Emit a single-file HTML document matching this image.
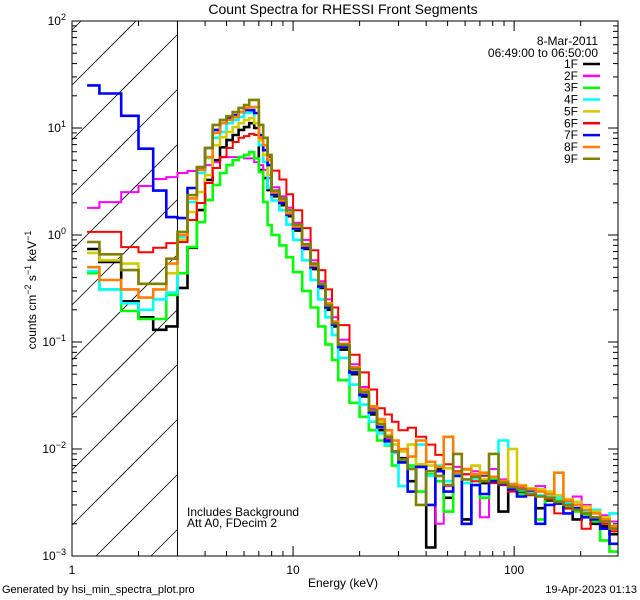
<!DOCTYPE html>
<html><head><meta charset="utf-8"><style>
html,body{margin:0;padding:0;background:#fff;overflow:hidden;width:640px;height:600px;}
svg{display:block;font-family:"Liberation Sans",sans-serif;}
</style></head><body>
<svg id="chart" width="640" height="600" viewBox="0 0 640 600">
<rect x="0" y="0" width="640" height="600" fill="#fff"/>
<text x="343" y="14" font-size="14" text-anchor="middle">Count Spectra for RHESSI Front Segments</text>
<g id="hatch"></g>
<g id="axes"></g>
<g id="series"></g>
<rect x="72" y="21" width="546" height="535" fill="none" stroke="#000" stroke-width="1"/>
<text x="187" y="516" font-size="12">Includes Background</text>
<text x="187" y="527" font-size="12">Att A0, FDecim 2</text>
<text x="343" y="587" font-size="12" text-anchor="middle">Energy (keV)</text>
<text transform="translate(36,290) rotate(-90)" font-size="12" text-anchor="middle">counts cm<tspan font-size="9" dy="-5">−2</tspan><tspan dy="5"> s</tspan><tspan font-size="9" dy="-5">−1</tspan><tspan dy="5"> keV</tspan><tspan font-size="9" dy="-5">−1</tspan></text>
<text x="2" y="593" font-size="11">Generated by hsi_min_spectra_plot.pro</text>
<text x="637" y="593" font-size="11" text-anchor="end">19-Apr-2023 01:13</text>
<text x="598" y="45" font-size="12" text-anchor="end">8-Mar-2011</text>
<text x="598" y="57" font-size="12" text-anchor="end">06:49:00 to 06:50:00</text>
<g id="legend"></g>
</svg>
<script>
const edges = [1.17,1.33,1.67,2,2.33,2.67,3,3.33,3.67,4,4.33,4.67,5,5.33,5.67,6,6.33,6.67,7,7.33,7.67,8,8.67,9.33,10,11,12,13,14,15,16,18,20,22,24,26,28,30,33,36,40,44,48,53,58,64,70,77,85,94,103,113,125,138,152,167,184,202,222,245,270,295];
const seriesNames = ["1F","2F","3F","4F","5F","6F","7F","8F","9F"];
const seriesColors = ["#000000","#ff00ff","#00ff00","#00ffff","#d4cc00","#ff0000","#0000ff","#ff7f00","#7f7f00"];
const s1F = [.74,.56,.24,.17,.13,.14, .32,.76,1.71,3.27,5.0,6.6,7.7,8.6,9.6,10.2,11.1,10,4.05,3.4,2.63, 2.3,1.9,1.5,1.1,.74,.48,.32,.2,.14,.085,.05,.031,.021,.015,.012,.0095,.0082,.0050,.0070, .0012,.0065,.0035,.0060,.0022,.0055,.0048,.0050,.0026,.0043,.0039,.0041,.0028,.0033,.0031,.0028,.0022,.0026,.0020,.0019,.0016];
const s2F = [1.79,2.03,2.52,2.87,3.34,3.48, 3.8,3.96,4.2,4.5,4.8,5.35,5.35,5.35,5.35,5.2,5.2,4.8,4.5,4.05,3.4, 2.8,2.3,1.8,1.3,.9,.58,.37,.25,.17,.105,.062,.038,.024,.016,.0125,.0095,.0045,.0065,.0072, .0062,.0020,.0045,.0068,.0058,.0062,.0023,.0065,.0052,.0046,.0044,.0040,.0045,.0038,.0035,.0032,.0036,.0030,.0027,.0024,.0021];
const s3F = [.44,.31,.195,.164,.164,.275, .44,.77,1.32,2.12,2.93,3.8,4.5,5.0,5.35,5.6,5.97,5.2,3.9,2.03,1.24, 1.0,.8,.62,.45,.3,.21,.14,.095,.068,.044,.027,.020,.015,.012,.0108,.007,.0078,.0070,.0040, .0058,.0050,.0026,.0060,.0020,.0055,.0035,.0052,.0047,.0044,.0038,.0042,.0022,.0034,.0033,.0029,.0026,.0024,.0021,.0014,.0011];
const s4F = [.46,.31,.23,.2,.25,.29, .96,2.03,3.8,5.24,8.1,9.2,11.1,11.9,12.7,13.8,14.1,11.1,6.9,4.8,2.75, 2.1,1.7,1.25,.9,.58,.38,.25,.17,.116,.071,.040,.026,.018,.014,.011,.0092,.0045,.0066,.0110, .0056,.0070,.0050,.0058,.0048,.0053,.0058,.0049,.0120,.0044,.0041,.0040,.0037,.0036,.0035,.0031,.0030,.0026,.0027,.0022,.0025];
const s5F = [.68,.58,.54,.35,.35,.44, .9,1.64,2.52,3.63,6.9,8.2,9.2,10.2,11.1,11.9,12.4,11.1,7.7,5.6,3.63, 2.4,2.0,1.55,1.15,.78,.5,.33,.21,.145,.09,.054,.035,.025,.018,.0135,.011,.0095,.0110,.0072, .0070,.0062,.0066,.0056,.0064,.0070,.0052,.0055,.0050,.0100,.0046,.0043,.0042,.0040,.0037,.0034,.0032,.0029,.0026,.0023,.0019];
const s6F = [1.07,1.07,.77,.69,.76,.84, .86,1.38,1.99,3.06,4.23,5.35,6.5,7.4,8.1,8.4,8.8,8.6,8.1,6.9,5.35, 4.0,3.3,2.4,1.7,1.16,.72,.47,.31,.21,.144,.076,.052,.036,.024,.021,.018,.0150,.0158,.0130, .0110,.0088,.0072,.0062,.0058,.0050,.0056,.0048,.0046,.0040,.0042,.0037,.0036,.0034,.0025,.0028,.0030,.0018,.0022,.0020,.0017];
const s7F = [25,21,13,6.4,2.6,1.47, 1.44,2.75,4.3,6.5,9.6,11.1,12.4,13.2,14.1,14.7,14.7,13.8,8.6,6.2,4.5, 2.4,2.0,1.55,1.15,.76,.5,.33,.21,.145,.09,.052,.032,.022,.016,.0118,.0095,.0075,.0040,.0068, .0030,.0062,.0040,.0056,.0020,.0046,.0038,.0050,.0047,.0042,.0036,.0041,.0020,.0030,.0031,.0025,.0028,.0023,.0022,.0018,.0013];
const s8F = [.5,.38,.31,.26,.31,.54, 1.0,2.2,4.05,5.35,9.0,11.1,11.9,12.7,14.1,15.4,15.7,15.7,8.1,6.9,5.0, 2.5,2.1,1.6,1.2,.8,.52,.35,.23,.155,.096,.058,.036,.025,.019,.0150,.012,.0100,.0085,.0120, .0076,.0068,.0130,.0060,.0065,.0058,.0060,.0055,.0050,.0047,.0045,.0042,.0040,.0038,.0060,.0033,.0030,.0027,.0025,.0022,.0019];
const s9F = [.86,.66,.47,.35,.35,.6, 1.07,2.36,4.3,6.5,10.7,11.9,12.9,14.1,15.4,16.4,18.3,18.3,10.7,8.1,5.6, 2.6,2.2,1.7,1.25,.82,.54,.35,.22,.15,.094,.056,.034,.023,.017,.013,.0095,.0080,.0065,.0030, .0062,.0056,.0046,.0090,.0052,.0055,.0050,.0090,.0048,.0044,.0042,.0038,.0036,.0035,.0032,.0030,.0027,.0025,.0023,.0021,.0018];
const seriesValues = [s1F,s2F,s3F,s4F,s5F,s6F,s7F,s8F,s9F];
const xTickValues = [1,10,100];
const xTickLabels = ["1","10","100"];
const yTickExps = [-3,-2,-1,0,1,2];
const attenuatorCutoff = 3;

const NS = "http://www.w3.org/2000/svg";
const L=72,R=618,T=21,B=556;
const xMin=0, xMax=Math.log10(295);
function xs(e){return L+(Math.log10(e)-xMin)/(xMax-xMin)*(R-L);}
function ys(v){const lv=Math.log10(v);return T+(2-lv)/5*(B-T);}
function mk(tag,attrs,parent){const el=document.createElementNS(NS,tag);for(const k in attrs)el.setAttribute(k,attrs[k]);parent.appendChild(el);return el;}

const svg=document.getElementById('chart');
const defs=mk('defs',{},svg);
const cp=mk('clipPath',{id:'plotclip'},defs);
mk('rect',{x:L,y:T,width:R-L,height:B-T},cp);
const xc=xs(attenuatorCutoff);

// hatch (lines y = y0 - (x-L), trimmed to the hatch box)
const hatch=document.getElementById('hatch');
for(let k=-2;k<14;k++){
  const y0=85+55*k;
  const xa=Math.max(L, L+y0-B), xb=Math.min(xc, L+y0-T);
  if(xb<=xa) continue;
  const ln=mk('line',{x1:xa,y1:y0-(xa-L),x2:xb,y2:y0-(xb-L),stroke:'#000','stroke-width':0.8},hatch);
  
  
}
const cut=mk('line',{x1:xc,y1:T,x2:xc,y2:B,stroke:'#000','stroke-width':1},hatch);



// axes ticks
const axes=document.getElementById('axes');
for(let d=0;d<3;d++){
  for(let m=1;m<10;m++){
    const e=Math.pow(10,d)*m; if(e>295)break;
    const x=xs(e); const len=m===1?10:5;
    mk('line',{x1:x,y1:B,x2:x,y2:B-len,stroke:'#000'},axes);
    mk('line',{x1:x,y1:T,x2:x,y2:T+len,stroke:'#000'},axes);
  }
}
xTickValues.forEach((v,i)=>{
  const t=mk('text',{x:xs(v),y:574,'font-size':12,'text-anchor':'middle'},axes);
  t.textContent=xTickLabels[i];
  
  
});
for(let ex=-3;ex<2;ex++){
  for(let m=1;m<10;m++){
    const y=ys(m*Math.pow(10,ex)); const len=m===1?10:5;
    mk('line',{x1:L,y1:y,x2:L+len,y2:y,stroke:'#000'},axes);
    mk('line',{x1:R,y1:y,x2:R-len,y2:y,stroke:'#000'},axes);
  }
}
yTickExps.forEach(ex=>{
  const y=ys(Math.pow(10,ex));
  const t=mk('text',{x:66,y:y+4,'font-size':12,'text-anchor':'end'},axes);
  
  
  const a=document.createElementNS(NS,'tspan');a.textContent='10';t.appendChild(a);
  const b=document.createElementNS(NS,'tspan');b.setAttribute('font-size','9');b.setAttribute('dy','-5');b.textContent=(ex<0?'−':'')+Math.abs(ex);t.appendChild(b);
});

// series
const sg=document.getElementById('series');
sg.setAttribute('clip-path','url(#plotclip)');
seriesValues.forEach((vals,si)=>{
  let d='';
  for(let i=0;i<vals.length;i++){
    const x0=xs(edges[i]),x1=xs(edges[i+1]),y=ys(vals[i]);
    d+=(i===0?'M':'L')+x0.toFixed(1)+','+y.toFixed(1)+'L'+x1.toFixed(1)+','+y.toFixed(1);
  }
  const p=mk('path',{d:d,fill:'none',stroke:seriesColors[si],'stroke-width':(si===1||si===5)?2:2.6,'stroke-linejoin':'miter'},sg);
  
  
});

// legend
const lg=document.getElementById('legend');
seriesNames.forEach((n,i)=>{
  const y=64+i*11.85;
  const t=mk('text',{x:578,y:y+4,'font-size':12,'text-anchor':'end'},lg);
  t.textContent=n;
  
  
  const l=mk('line',{x1:583,y1:y,x2:600,y2:y,stroke:seriesColors[i],'stroke-width':2.5},lg);
  
  
});
</script>
</body></html>
